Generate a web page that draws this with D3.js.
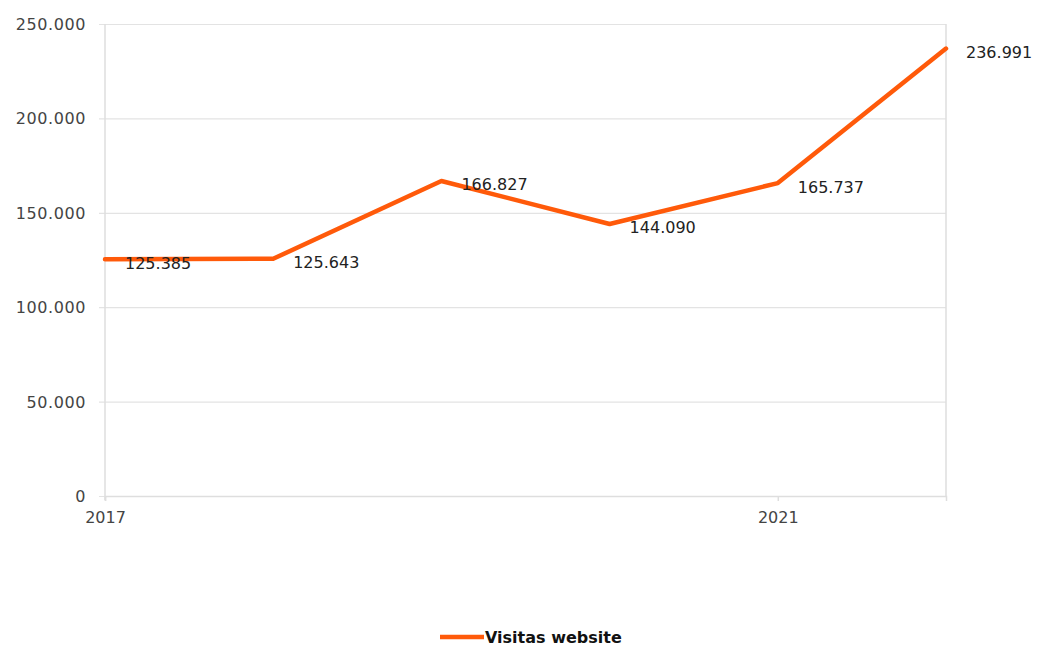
<!DOCTYPE html>
<html>
<head>
<meta charset="utf-8">
<script src="https://cdn.jsdelivr.net/npm/d3@7"></script>
<style>
  html, body { margin: 0; padding: 0; background: #fff; }
  svg { display: block; }
  svg text { font-family: "DejaVu Sans", sans-serif; }
</style>
</head>
<body>
<svg id="chart" width="1037" height="647"></svg>
<script>
// Annual website visits
const years = [2017, 2018, 2019, 2020, 2021, 2022];
const visits = [125385, 125643, 166827, 144090, 165737, 236991];
const yTicks = [0, 50000, 100000, 150000, 200000, 250000];
const xTickYears = [2017, 2021];
const seriesName = "Visitas website";

const W = 1037, H = 647;
const margin = { top: 24, right: 91, bottom: 151, left: 105 };
const innerW = W - margin.left - margin.right;
const innerH = H - margin.top - margin.bottom;
const orange = "#ff5a0a";
const font = "'DejaVu Sans', sans-serif";

const fmt = d3.formatLocale({ decimal: ",", thousands: ".", grouping: [3], currency: ["", ""] }).format(",d");

const svg = d3.select("#chart");
const g = svg.append("g").attr("transform", `translate(${margin.left},${margin.top})`);

const x = d3.scaleLinear().domain([d3.min(years), d3.max(years)]).range([0, innerW]);
const y = d3.scaleLinear().domain([0, 250000]).range([innerH, 0]);

// Horizontal gridlines with y labels
const yAxis = g.append("g")
  .call(d3.axisLeft(y).tickValues(yTicks).tickFormat(fmt).tickSize(-innerW).tickPadding(19))
  .attr("font-family", font);
yAxis.select(".domain").remove();
yAxis.selectAll(".tick line").attr("x1", -6).attr("x2", innerW).attr("stroke", "#e3e3e3").attr("stroke-width", 1.2);
yAxis.selectAll(".tick text").attr("fill", "#444").style("font-size", "16px")
  .style("letter-spacing", "0.6px").attr("dy", "0.34em");

// Frame: left axis, right border
g.append("line").attr("x1", 0).attr("x2", 0).attr("y1", 0).attr("y2", innerH + 4)
  .attr("stroke", "#dedede").attr("stroke-width", 1.5);
g.append("line").attr("x1", innerW).attr("x2", innerW).attr("y1", 0).attr("y2", innerH)
  .attr("stroke", "#dedede").attr("stroke-width", 1.5);

// Bottom axis
const xAxis = g.append("g").attr("transform", `translate(0,${innerH})`)
  .call(d3.axisBottom(x).tickValues(xTickYears).tickFormat(d3.format("d")).tickSize(5).tickPadding(11))
  .attr("font-family", font);
xAxis.select(".domain").attr("stroke", "#dedede").attr("stroke-width", 1.5);
xAxis.selectAll(".tick line").attr("stroke", "#dedede").attr("stroke-width", 1.5);
xAxis.selectAll(".tick text").attr("fill", "#444").style("font-size", "16px");

// Series line
const line = d3.line().x((d, i) => x(years[i])).y(d => y(d));
g.append("path").datum(visits)
  .attr("d", line)
  .attr("fill", "none")
  .attr("stroke", orange)
  .attr("stroke-width", 4.5)
  .attr("stroke-linejoin", "round")
  .attr("stroke-linecap", "round");

// Value labels
g.selectAll(".val").data(visits).enter().append("text")
  .attr("class", "val")
  .attr("x", (d, i) => x(years[i]) + 20)
  .attr("y", (d, i) => y(d) + 4)
  .attr("dy", "0.34em")
  .attr("fill", "#222")
  .style("font-size", "16px")
  .text(d => fmt(d));

// Legend
const lg = svg.append("g").attr("transform", "translate(440,637)");
lg.append("line").attr("x1", 0).attr("x2", 44).attr("y1", 0).attr("y2", 0)
  .attr("stroke", orange).attr("stroke-width", 4.5);
lg.append("text").attr("x", 45).attr("y", 0).attr("dy", "0.35em")
  .attr("fill", "#111").style("font-size", "16px").style("font-weight", "bold")
  .text(seriesName);
</script>
</body>
</html>
